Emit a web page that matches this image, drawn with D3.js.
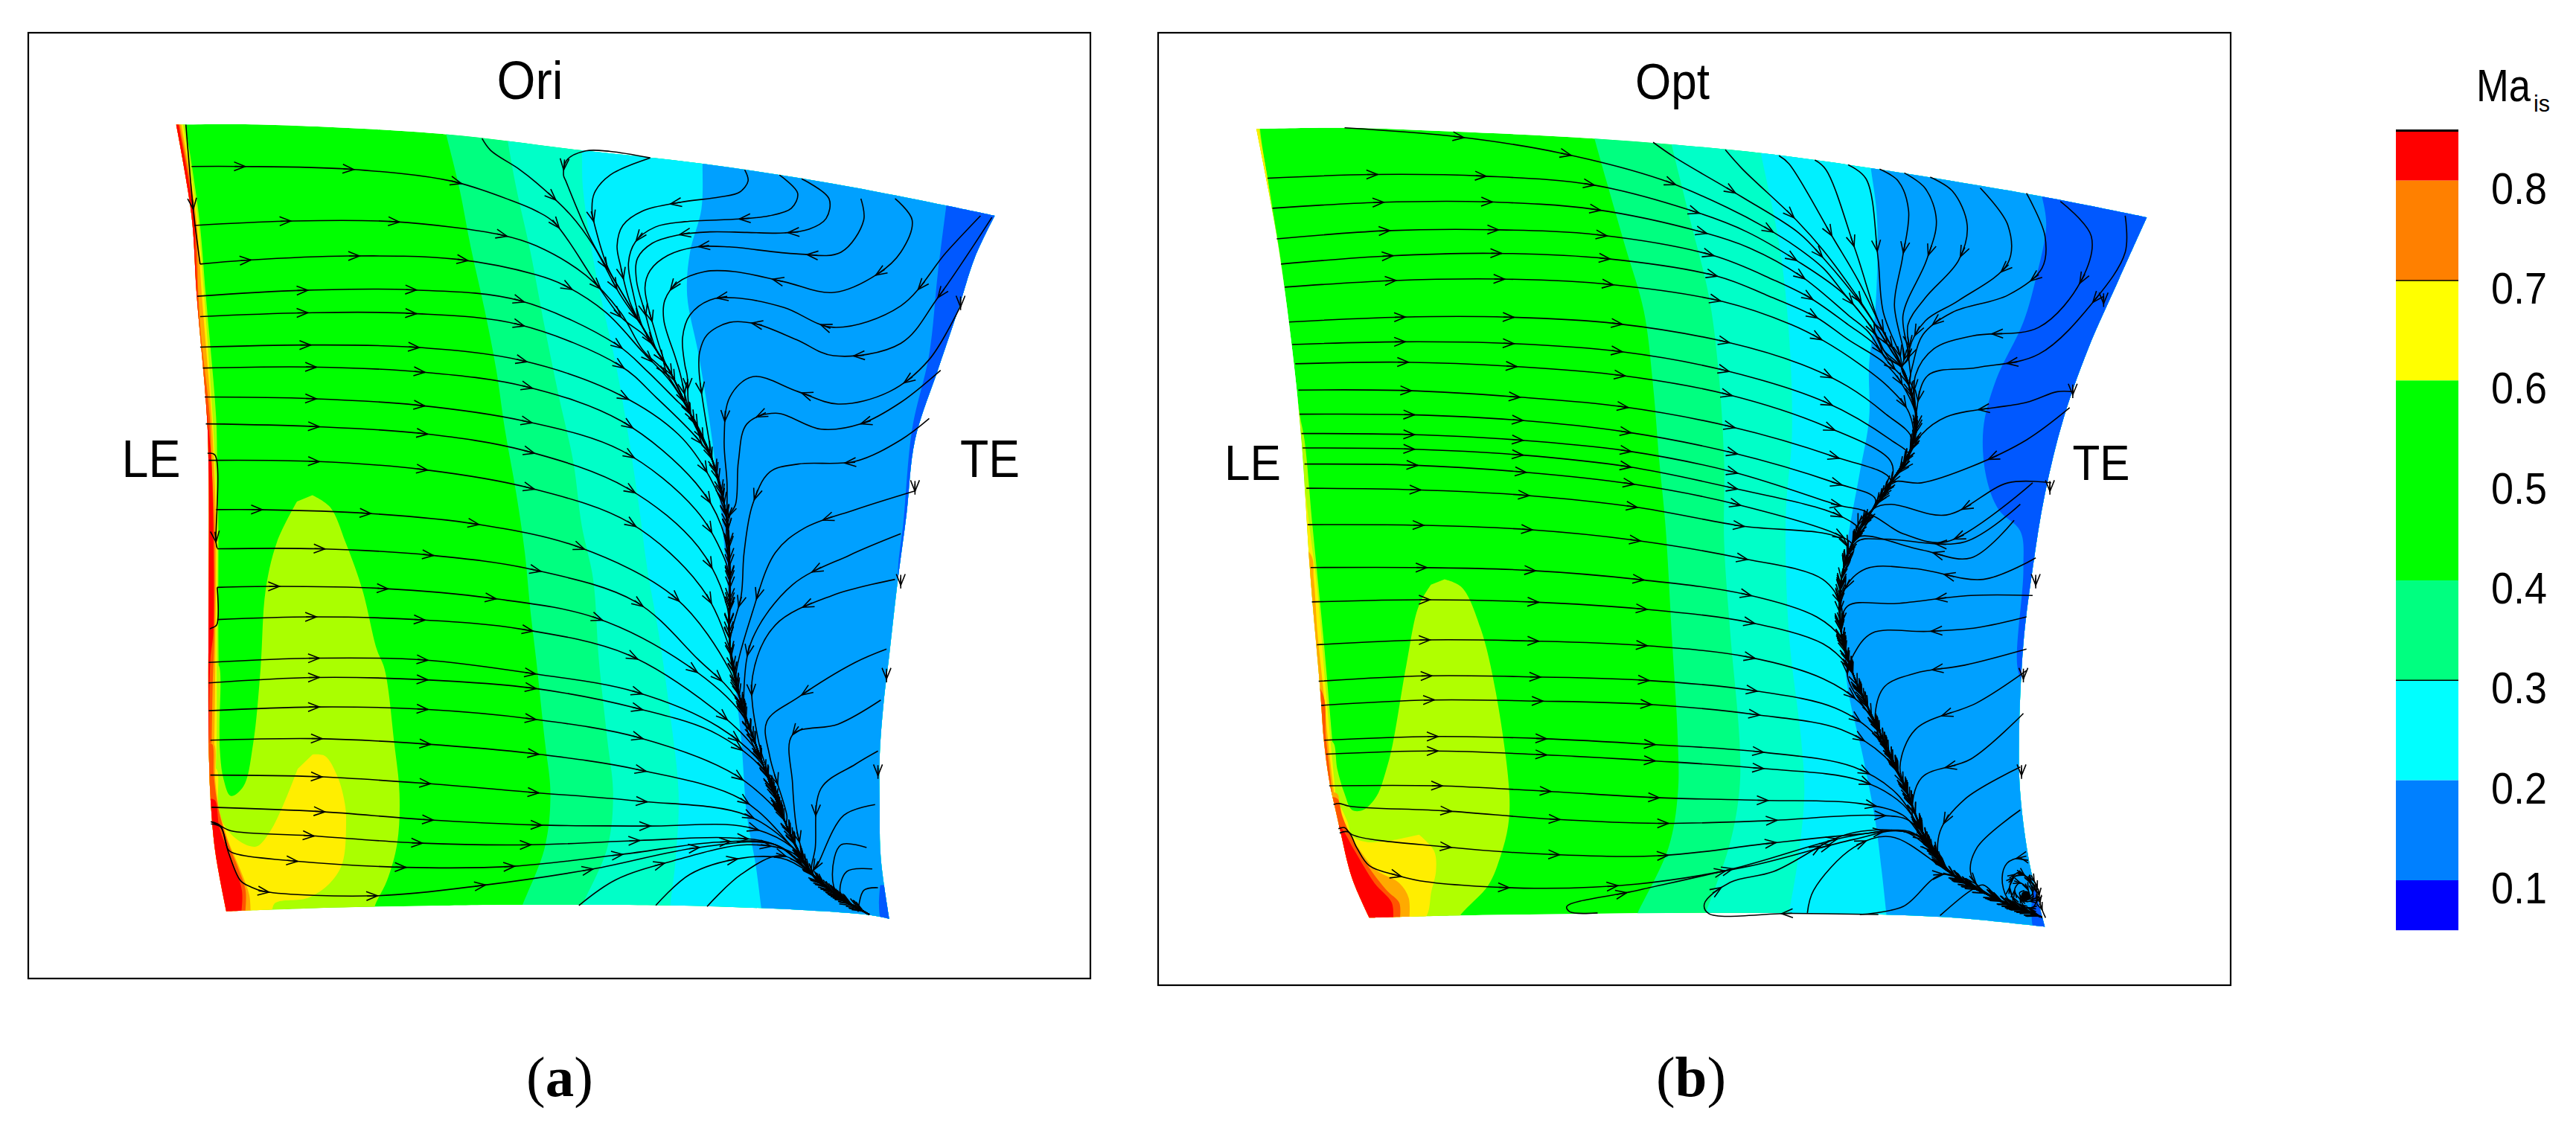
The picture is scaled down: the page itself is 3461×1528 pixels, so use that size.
<!DOCTYPE html>
<html><head><meta charset="utf-8">
<script src="https://cdn.jsdelivr.net/npm/d3@7/dist/d3.min.js"></script>
<style>html,body{margin:0;padding:0;background:#fff}svg{display:block}text{font-family:"Liberation Sans",Arial,sans-serif;fill:#000}</style>
</head><body><svg id="c" width="3461" height="1528"></svg>
<script>
const keyLevels=[0.85,0.8,0.7,0.6,0.4,0.3,0.2,0.1,0.05];
const keyColors=["#ff0000","#ff8000","#ffff00","#00ff00","#00ff80","#00ffff","#0080ff","#0000ff"];
const keyTicks=[0.8,0.7,0.6,0.5,0.4,0.3,0.2,0.1];
const bandColors={green:"#00ff00",spring:"#00ff80",aqua:"#00ffc8",cyan:"#00f0ff",sky:"#00a0ff",blue:"#0058ff",lime:"#aaff00",yellow:"#ffee00",orange:"#ffaa00",flame:"#ff5500",red:"#ff0000"};
const oriTop=[[48,52],[200,52],[522,70],[760,100],[972,125],[1200,162],[1400,203],[1485,222]];
const oriRight=[[1485,222],[1450,300],[1420,400],[1385,510],[1345,640],[1330,780],[1315,900],[1300,1040],[1290,1130],[1283,1230],[1283,1320],[1285,1420],[1300,1533]];
const oriBottom=[[1300,1533],[1265,1526],[1000,1510],[653,1507],[487,1509],[323,1512],[213,1516],[136,1519]];
const oriLeft=[[136,1519],[117,1411],[109,1322],[105,1200],[105,700],[102,597],[84,370],[75,223],[48,52]];
const oriIso=[
 ["spring",[[518,50],[522,70],[545,170],[565,280],[590,400],[610,510],[625,620],[645,740],[660,850],[670,960],[680,1050],[695,1200],[705,1300],[695,1400],[655,1510],[645,1540]]],
 ["aqua",[[627,60],[630,82],[645,170],[670,290],[695,430],[720,560],[745,680],[760,800],[780,900],[790,1050],[805,1200],[815,1300],[805,1400],[760,1510],[750,1540]]],
 ["cyan",[[757,80],[760,100],[762,170],[785,330],[820,500],[840,620],[860,760],[875,880],[895,1000],[915,1150],[930,1300],[925,1420],[915,1510],[912,1540]]],
 ["sky",[[972,100],[972,125],[970,210],[950,290],[945,370],[965,480],[985,610],[1005,780],[1015,900],[1025,1050],[1040,1200],[1050,1340],[1065,1430],[1075,1512],[1078,1540]]],
 ["blue",[[1403,180],[1400,203],[1385,330],[1370,480],[1340,620],[1325,790],[1315,900],[1330,1000]]]
];
const oriTipBlue=[[1284,1470],[1288,1540],[1340,1540],[1340,1470]];
const oriEdge={
 lime:[[62,40],[64,52],[88,223],[100,370],[118,597],[120,680],[122,800],[122,1000],[124,1200],[124,1300]],
 yellow:[[58,40],[60,52],[85,223],[97,370],[112,597],[116,680],[120,800],[119,1000],[119,1200],[116,1300]],
 orange:[[55,40],[57,52],[83,223],[93,370],[110,597],[114,680],[118,800],[117,1000],[115,1200],[112,1300]],
 flame:[[52,40],[54,52],[81,223],[87,370],[92,450],[107,597],[110,680],[115,800],[115,1000],[112,1100],[109,1300]],
 red:[[50,40],[52,52],[79,223],[82,300],[85,370],[90,450],[100,560],[105,620],[110,680],[113,800],[113,1000],[108,1050],[105,1300]]
};
const oriLime=[[287,743],[318,765],[345,830],[375,920],[400,1030],[414,1068],[431,1207],[440,1300],[436,1392],[418,1462],[396,1512],[396,1535],[200,1535],[110,1400],[100,1300],[112,1068],[122,1060],[124,1207],[131,1272],[144,1304],[166,1286],[183,1207],[196,1068],[205,920],[225,830],[260,755]];
const oriYellowLow=[[660,342],[710,348],[760,430],[790,540],[795,620],[780,780],[730,860],[640,920],[510,940],[485,985],[240,985],[240,400],[272,400],[280,540],[300,620],[350,680],[410,712],[440,710],[490,650],[540,550],[600,400]];
const oriOrangeLow=[[410,985],[405,910],[370,810],[320,690],[285,570],[268,450],[262,300],[240,300],[240,985]];
const oriFlameLow=[[388,985],[390,890],[360,800],[320,700],[280,560],[262,430],[255,300],[240,300],[240,985]];
const oriRedLow=[[372,985],[375,890],[330,760],[285,640],[265,525],[240,525],[240,985]];
const oriSep=[[775,264],[828,361],[867,430],[893,476],[915,513],[950,590],[990,680],[1015,790],[1020,900],[1020,1020],[1040,1130],[1080,1250],[1120,1360],[1165,1450],[1210,1490],[1265,1525]];
const oriLeftStreams=[
 [[75,130],[160,130],[350,135],[530,157],[640,195],[680,213],[712,235],[786,349],[830,412],[870,445]],
 [[80,240],[240,232],[430,233],[620,258],[680,278],[767,333],[828,402],[867,472],[906,513]],
 [[90,312],[170,305],[350,297],[540,303],[680,332],[728,351],[802,402],[867,476],[915,530]],
 [[85,372],[270,361],[460,360],[650,380],[821,462],[876,513],[930,570]],
 [[90,410],[270,403],[460,404],[650,425],[828,502],[890,560],[965,640]],
 [[90,467],[275,463],[465,467],[655,492],[825,555],[930,630],[985,710]],
 [[95,506],[285,504],[475,513],[660,540],[830,605],[960,720],[1005,800]],
 [[98,560],[285,563],[470,575],[660,605],[830,660],[960,770],[1010,860]],
 [[100,610],[290,615],[480,628],[660,660],[840,730],[965,840],[1015,950]],
 [[105,678],[290,680],[480,695],[670,730],[845,795],[970,915],[1020,1030]],
 [[118,770],[190,770],[385,777],[575,797],[755,840],[925,935],[1020,1070]],
 [[120,843],[300,843],[495,855],[675,882],[855,942],[965,1050],[1030,1120]],
 [[120,915],[220,913],[410,917],[600,935],[785,972],[945,1060],[1040,1150]],
 [[120,975],[285,970],[470,975],[655,993],[840,1040],[990,1140],[1060,1210]],
 [[105,1055],[290,1047],[480,1050],[670,1075],[855,1110],[1000,1175],[1080,1250]],
 [[105,1093],[290,1083],[480,1087],[675,1103],[855,1140],[1000,1190],[1090,1270]],
 [[105,1145],[290,1138],[480,1142],[670,1160],[860,1195],[1030,1265],[1110,1340]],
 [[108,1200],[295,1197],[485,1207],[675,1225],[860,1255],[1040,1310],[1130,1400]],
 [[108,1265],[295,1268],[480,1280],[670,1297],[855,1313],[1050,1340],[1140,1410]],
 [[110,1325],[300,1333],[485,1348],[680,1358],[870,1360],[1050,1362],[1130,1400],[1165,1450]],
 [[109,1352],[126,1360],[144,1369],[281,1378],[480,1392],[670,1395],[860,1387],[1020,1382],[1100,1395],[1165,1450]],
 [[109,1352],[126,1360],[140,1405],[157,1413],[253,1425],[450,1437],[640,1435],[830,1413],[1000,1390],[1100,1395],[1165,1450]],
 [[109,1356],[126,1362],[140,1410],[161,1462],[178,1473],[203,1482],[400,1490],[590,1470],[780,1440],[965,1400],[1100,1395],[1165,1450]]
];
const oriOtherStreams=[
 [[755,1508],[820,1460],[920,1425],[1050,1395],[1130,1410]],
 [[890,1508],[950,1450],[1040,1420],[1110,1420],[1150,1440]],
 [[980,1510],[1040,1450],[1110,1415],[1165,1450]],
 [[585,78],[600,100],[650,135],[680,160],[740,220],[780,277],[828,370]],
 [[880,114],[810,102],[767,101],[734,118],[728,146],[732,157],[775,264]],
 [[880,114],[810,146],[782,180],[778,213],[784,245],[806,319],[828,361]],
 [[1046,136],[1052,157],[1037,178],[1002,187],[932,197],[867,213],[832,240],[822,278],[828,315],[845,384]],
 [[1107,146],[1139,180],[1128,208],[1089,222],[1037,228],[941,233],[889,243],[854,271],[842,310],[850,365],[867,430]],
 [[1146,153],[1194,190],[1189,227],[1159,247],[1115,254],[1050,253],[985,252],[928,258],[884,273],[858,301],[856,342],[871,402],[889,467]],
 [[1250,190],[1255,230],[1215,290],[1137,293],[1019,280],[963,280],[911,296],[880,324],[871,356],[889,439],[906,495]],
 [[1310,190],[1340,230],[1320,290],[1280,330],[1202,365],[1115,345],[1028,326],[976,326],[928,347],[906,379],[904,416],[924,485],[932,513]],
 [[1460,222],[1400,290],[1320,390],[1202,430],[1115,393],[1028,375],[985,379],[950,407],[937,449],[941,500],[945,520]],
 [[1480,225],[1385,375],[1320,460],[1202,483],[1137,453],[1063,423],[1019,421],[980,444],[967,476],[966,513],[985,650]],
 [[1425,390],[1370,490],[1300,550],[1210,573],[1140,550],[1060,522],[1020,560],[1010,640],[1015,720]],
 [[1390,510],[1320,570],[1250,610],[1180,620],[1100,590],[1050,610],[1035,680],[1030,760]],
 [[1370,600],[1320,640],[1240,680],[1140,685],[1090,700],[1060,760],[1045,850],[1040,930]],
 [[1345,735],[1240,770],[1150,805],[1100,850],[1060,960],[1030,1090]],
 [[1320,815],[1230,855],[1130,910],[1060,1010],[1045,1100],[1050,1180]],
 [[1310,900],[1200,930],[1100,985],[1060,1080],[1070,1200],[1090,1270]],
 [[1295,1030],[1240,1055],[1140,1120],[1085,1165],[1090,1230],[1120,1340]],
 [[1285,1125],[1210,1170],[1130,1190],[1130,1280],[1140,1380]],
 [[1280,1220],[1240,1245],[1180,1290],[1170,1400]],
 [[1275,1320],[1220,1340],[1175,1430]],
 [[1260,1400],[1215,1395],[1200,1450],[1210,1490]],
 [[1270,1440],[1225,1445],[1215,1490]],
 [[1280,1475],[1255,1480],[1245,1520]]
];
const oriStubs=[
 [[65,52],[78,210],[90,312]],
 [[103,665],[116,668],[118,832],[120,842]],
 [[120,915],[119,985],[108,992],[108,993]],
 [[1425,378],[1425,392],[1425,398]],
 [[1345,722],[1345,736],[1345,742]],
 [[1320,897],[1320,911],[1320,917]],
 [[1295,1072],[1295,1086],[1295,1092]],
 [[1280,1252],[1280,1266],[1280,1272]]
];
const optTop=[[82,60],[230,58],[400,65],[630,78],[900,105],[1100,137],[1350,185],[1525,225]];
const optRight=[[1525,225],[1480,340],[1430,470],[1390,600],[1360,740],[1340,880],[1325,1020],[1318,1200],[1320,1300],[1335,1430],[1360,1548]];
const optBottom=[[1360,1548],[1200,1530],[1000,1523],[800,1522],[600,1524],[400,1527],[265,1531]];
const optLeft=[[265,1531],[237,1457],[217,1364],[209,1323],[201,1281],[192,1207],[185,1100],[170,900],[155,640],[140,470],[115,260],[82,60]];
const optIso=[
 ["spring",[[625,55],[630,78],[650,160],[680,280],[710,400],[725,540],[735,680],[745,800],[755,1000],[765,1200],[765,1300],[750,1400],[700,1522],[690,1550]]],
 ["aqua",[[750,65],[755,90],[785,230],[815,370],[830,500],[840,680],[840,830],[850,1000],[865,1200],[865,1290],[850,1390],[810,1522],[800,1550]]],
 ["cyan",[[896,85],[900,108],[930,280],[945,440],[950,630],[940,780],[945,1000],[965,1200],[970,1300],[960,1420],[945,1522],[940,1550]]],
 ["sky",[[1075,110],[1078,135],[1088,230],[1085,400],[1075,500],[1075,600],[1060,700],[1040,830],[1030,950],[1040,1100],[1065,1230],[1085,1350],[1095,1440],[1103,1525],[1105,1550]]],
 ["blue",[[1350,160],[1355,185],[1362,240],[1345,340],[1325,420],[1280,530],[1260,620],[1265,710],[1285,770],[1320,810],[1325,880],[1315,1060],[1325,1100],[1360,1200]]]
];
const optTipBlue=[[1340,1480],[1345,1560],[1400,1560],[1400,1480]];
const optEdge={
 lime:[[88,40],[88,60],[110,220],[121,300],[152,590],[160,640],[173,800],[190,1000],[205,1200],[215,1340]],
 yellow:[[85,40],[86,60],[100,150],[108,220],[118,300],[150,590],[158,700],[170,820],[179,900],[187,1000],[194,1100],[202,1200],[212,1320]],
 orange:[[60,800],[168,850],[175,900],[181,1000],[190,1100],[198,1200],[210,1320]],
 flame:[[60,1050],[183,1100],[195,1200],[207,1320]]
};
const optLime=[[387,900],[415,915],[445,990],[470,1110],[492,1300],[490,1360],[478,1415],[458,1470],[414,1524],[400,1550],[290,1550],[225,1400],[200,1340],[198,1200],[207,1205],[213,1253],[225,1300],[237,1330],[255,1330],[277,1304],[293,1253],[303,1207],[325,1060],[345,950],[365,910]];
const optYellowLow=[[770,365],[830,430],[838,510],[820,590],[785,710],[400,710],[400,240],[440,240],[480,310],[500,370],[560,395],[680,385]];
const optOrangeLow=[[730,710],[728,620],[690,560],[600,510],[540,440],[480,340],[450,250],[440,200],[400,200],[400,710]];
const optFlameLow=[[692,710],[690,640],[640,590],[570,500],[510,400],[460,290],[440,220],[400,220],[400,710]];
const optRedLow=[[665,710],[660,640],[590,560],[510,430],[450,330],[400,300],[400,710]];
const optSep=[[1115,480],[1128,505],[1140,540],[1152,600],[1145,650],[1110,720],[1075,780],[1045,840],[1030,900],[1030,1000],[1050,1080],[1090,1180],[1130,1280],[1170,1390],[1210,1450],[1290,1500],[1355,1530]];
const optLeftStreams=[
 [[225,58],[410,75],[575,105],[740,155],[844,206],[907,244],[957,280],[1001,320],[1033,365],[1082,435],[1106,486]],
 [[100,152],[270,145],[450,148],[630,165],[802,218],[877,252],[957,305],[1033,367],[1078,430],[1098,472]],
 [[108,208],[280,197],[455,196],[630,210],[806,253],[881,282],[965,335],[1041,407],[1074,439],[1102,486]],
 [[115,265],[290,250],[465,248],[640,258],[822,296],[921,342],[979,375],[1041,425],[1084,462],[1106,495]],
 [[122,312],[295,297],[470,292],[650,302],[830,335],[909,370],[989,411],[1041,453],[1098,495],[1125,530]],
 [[128,355],[300,343],[480,340],[655,350],[838,382],[949,425],[1001,455],[1060,499],[1105,540],[1140,590]],
 [[135,420],[315,411],[490,411],[665,423],[846,458],[965,499],[1040,540],[1100,590],[1145,640]],
 [[140,462],[315,457],[490,460],[670,475],[840,510],[1005,570],[1110,640],[1140,670]],
 [[145,498],[320,495],[500,503],[675,520],[845,555],[1005,615],[1110,680]],
 [[150,547],[325,548],[505,560],[675,578],[850,615],[1015,670],[1110,715]],
 [[152,592],[330,593],[505,603],[680,625],[850,663],[1020,720],[1085,750]],
 [[155,628],[330,630],[505,640],[680,660],[855,700],[1020,760],[1075,780]],
 [[157,655],[330,657],[510,668],[685,690],[855,730],[1025,780],[1060,810]],
 [[160,685],[335,687],[515,700],[690,722],[860,760],[1030,820],[1050,840]],
 [[163,730],[340,733],[515,743],[695,765],[865,800],[1030,825],[1045,860]],
 [[165,798],[345,799],[520,807],[695,827],[865,860],[1000,900],[1030,950]],
 [[170,878],[350,878],[520,883],[700,900],[875,928],[990,970],[1030,1010]],
 [[172,942],[355,938],[525,942],[705,955],[880,980],[1000,1020],[1040,1060]],
 [[180,1022],[355,1013],[530,1015],[705,1023],[880,1045],[1000,1085],[1060,1130]],
 [[183,1090],[358,1080],[535,1082],[710,1088],[885,1107],[1020,1140],[1085,1190]],
 [[187,1135],[362,1125],[540,1127],[715,1133],[890,1152],[1030,1180],[1100,1230]],
 [[192,1200],[368,1193],[545,1197],[725,1208],[900,1222],[1050,1250],[1120,1300]],
 [[195,1226],[368,1220],[545,1227],[720,1238],[895,1252],[1060,1275],[1130,1320]],
 [[200,1285],[375,1285],[550,1295],[730,1307],[900,1312],[1060,1318],[1130,1340],[1160,1380]],
 [[207,1320],[217,1318],[233,1323],[390,1332],[560,1347],[735,1355],[910,1350],[1085,1340],[1140,1350],[1170,1395]],
 [[215,1365],[225,1363],[237,1376],[390,1399],[560,1413],[740,1415],[915,1392],[1060,1375],[1140,1370],[1175,1400]],
 [[217,1373],[231,1371],[245,1401],[265,1434],[310,1452],[358,1464],[533,1476],[700,1468],[880,1435],[1050,1385],[1130,1370],[1180,1410]]
];
const optOtherStreams=[
 [[635,1522],[590,1520],[585,1510],[700,1480],[870,1435],[1040,1380],[1130,1370]],
 [[1090,1525],[950,1523],[815,1523],[808,1505],[850,1465],[920,1445],[1040,1375],[1130,1370]],
 [[975,1522],[985,1480],[1050,1400],[1110,1380]],
 [[1060,1525],[1130,1510],[1195,1450]],
 [[1190,1527],[1240,1480],[1260,1470]],
 [[725,85],[760,113],[869,187],[961,254],[1001,301],[1066,393],[1110,472]],
 [[842,99],[869,134],[957,230],[1001,287],[1057,375],[1098,449]],
 [[929,110],[945,125],[1017,264],[1057,342],[1094,428],[1118,480]],
 [[987,118],[1005,136],[1053,287],[1094,430],[1122,486]],
 [[1041,127],[1070,153],[1089,296],[1098,402],[1126,486]],
 [[1092,135],[1122,157],[1139,213],[1129,301],[1116,388],[1132,486]],
 [[1132,142],[1166,171],[1184,231],[1168,305],[1130,407],[1138,486]],
 [[1174,150],[1210,176],[1234,240],[1220,305],[1166,375],[1138,425],[1140,486]],
 [[1255,170],[1300,240],[1300,310],[1220,380],[1166,418],[1140,472],[1142,520]],
 [[1330,180],[1360,260],[1355,320],[1300,370],[1210,402],[1162,444],[1146,499]],
 [[1385,195],[1435,260],[1420,340],[1350,430],[1242,446],[1180,470],[1150,520],[1150,590]],
 [[1490,222],[1490,290],[1440,380],[1350,480],[1250,505],[1170,520],[1150,600]],
 [[1405,550],[1380,550],[1330,570],[1200,597],[1160,630],[1130,690]],
 [[1400,580],[1330,640],[1240,690],[1160,720],[1110,720]],
 [[1370,720],[1300,720],[1200,780],[1110,760],[1080,770]],
 [[1340,720],[1200,830],[1130,815],[1070,780]],
 [[1320,760],[1230,830],[1100,825],[1055,830]],
 [[1310,790],[1240,860],[1160,845],[1060,820]],
 [[1345,860],[1260,900],[1150,880],[1070,880],[1035,920]],
 [[1340,930],[1240,930],[1120,945],[1040,950],[1030,1000]],
 [[1330,970],[1250,990],[1170,997],[1080,1000],[1050,1040],[1040,1080]],
 [[1330,1030],[1230,1060],[1150,1075],[1100,1100],[1085,1150],[1090,1190]],
 [[1330,1070],[1250,1130],[1150,1180],[1125,1250],[1135,1290]],
 [[1325,1150],[1240,1235],[1160,1270],[1145,1340],[1160,1380]],
 [[1320,1250],[1230,1310],[1190,1370],[1190,1430]],
 [[1320,1330],[1250,1400],[1240,1450],[1270,1490]]
];
const optStubs=[
 [[1455,372],[1455,386],[1455,392]],
 [[1405,542],[1405,556],[1405,562]],
 [[1368,722],[1368,736],[1368,742]],
 [[1345,897],[1345,911],[1345,917]],
 [[1325,1072],[1325,1086],[1325,1092]],
 [[1322,1252],[1322,1266],[1322,1272]]
];
const optVortex=[[675,330],[640,310],[590,330],[570,390],[590,470],[640,510],[700,530],[725,545]];
const optSpiral=[[610,385],[640,368],[690,410],[712,470],[690,510],[630,490],[600,430],[620,385],[660,380],[690,430],[690,480],[650,480],[620,440],[640,410],[670,430],[680,470],[660,480],[640,450],[660,440]];
const optHair=[[695,395],[715,440],[725,500],[745,550]];
const titles=["Ori","Opt"],edgeLabels=["LE","TE"],captions=["a","b"];

const svg=d3.select("#c");
const curve=d3.curveCatmullRom.alpha(0.5);
function label(t,x,y,fs,w,anchor){
 return svg.append("text").attr("x",x).attr("y",y).attr("text-anchor",anchor||"start").attr("font-size",fs).attr("textLength",w).attr("lengthAdjust","spacingAndGlyphs").text(t);
}
function panel(cfg){
 const x=d3.scaleLinear().domain([0,1568]).range(cfg.xr), y=d3.scaleLinear().domain([0,1568]).range(cfg.yr);
 const xl=d3.scaleLinear().domain([0,cfg.low[0]]).range(cfg.low[1]), yl=d3.scaleLinear().domain([0,cfg.low[2]]).range(cfg.low[3]);
 const main=d3.line().x(d=>x(d[0])).y(d=>y(d[1])).curve(curve);
 const low=d3.line().x(d=>xl(d[0])).y(d=>yl(d[1])).curve(curve);
 const id="clip"+cfg.title;
 const outline=[cfg.top,cfg.right,cfg.bottom,cfg.left].map((e,i)=>{const s=main(e);return i?s.replace(/^M/,"L"):s}).join("")+"Z";
 svg.append("clipPath").attr("id",id).append("path").attr("d",outline);
 svg.append("rect").attr("x",cfg.frame[0]).attr("y",cfg.frame[1]).attr("width",cfg.frame[2]-cfg.frame[0]).attr("height",cfg.frame[3]-cfg.frame[1]).attr("fill","#fff").attr("stroke","#000").attr("stroke-width",2.2);
 const g=svg.append("g").attr("clip-path",`url(#${id})`);
 g.append("path").attr("d",outline).attr("fill",bandColors.green);
 cfg.iso.forEach(([c,pts])=>{
  const a=pts[0],b=pts[pts.length-1];
  g.append("path").attr("fill",bandColors[c]).attr("d",main(pts)+`L${x(1700)},${y(b[1])}L${x(1700)},${y(a[1])}Z`);
 });
 g.append("path").attr("fill",bandColors.blue).attr("d",main(cfg.tip)+"Z");
 g.append("path").attr("fill",cfg.lime||bandColors.lime).attr("d",main(cfg.blob)+"Z");
 ["lime","yellow","orange","flame","red"].forEach(k=>{
  const pts=cfg.edge[k]; if(!pts)return;
  const a=pts[0],b=pts[pts.length-1];
  g.append("path").attr("fill",k==="lime"?(cfg.lime||bandColors.lime):bandColors[k]).attr("d",main(pts)+`L${x(0)},${y(b[1])}L${x(0)},${y(a[1])}Z`);
 });
 [["yellow",cfg.yLow],["orange",cfg.oLow],["flame",cfg.fLow],["red",cfg.rLow]].forEach(([k,p])=>{
  g.append("path").attr("fill",bandColors[k]).attr("d",low(p)+"Z");
 });
 const sl=svg.append("g").attr("fill","none").attr("stroke","#000").attr("stroke-width",1.6);
 function drawStream(d,first,gap,k){
  k=k||1;
  const p=sl.append("path").attr("d",d), n=p.node(), L=n.getTotalLength();
  for(let s=first;s<L-4;s+=gap){
   const a=n.getPointAtLength(s),b=n.getPointAtLength(s+1.5);
   const t=Math.atan2(b.y-a.y,b.x-a.x)*180/Math.PI;
   sl.append("path").attr("transform",`translate(${a.x},${a.y}) rotate(${t})`).attr("d",d3.line()([[-15*k,-6*k],[0,0],[-15*k,6*k]]));
   sl.append("path").attr("transform",`translate(${a.x},${a.y}) rotate(${t})`).attr("d",d3.line()([[-14*k,0],[0,0]]));
  }
 }
 const arc=(s,i)=>{let t=0;for(let k=1;k<=i;k++)t+=Math.hypot(x(s[k][0])-x(s[k-1][0]),y(s[k][1])-y(s[k-1][1]));return t};
 const extend=s=>{const l=s[s.length-1];return s.concat(cfg.sep.filter(q=>q[1]>l[1]+15))};
 cfg.leftStreams.forEach(s=>{
  let i=1; while(i<s.length-1&&s[i][0]-s[0][0]<70)i++;
  drawStream(main(extend(s)),arc(s,i)+7,146);
 });
 cfg.otherStreams.forEach(s=>drawStream(main(extend(s)),130,146));
 cfg.stubs.forEach(s=>drawStream(main(s),arc(s,s.length-2),900));
 label(cfg.title,cfg.titlePos[0],cfg.titlePos[1],cfg.titlePos[2],cfg.titlePos[3],"middle");
 label(edgeLabels[0],cfg.lePos[0],cfg.lePos[1],cfg.lePos[2],cfg.lePos[3],"middle");
 label(edgeLabels[1],cfg.tePos[0],cfg.tePos[1],cfg.tePos[2],cfg.tePos[3],"middle");
 const cap=svg.append("text").attr("x",cfg.capX).attr("y",1473).attr("text-anchor","middle").attr("font-size",77).style("font-family","'Liberation Serif',serif");
 cap.append("tspan").text("(");cap.append("tspan").attr("font-weight","bold").text(cfg.cap);cap.append("tspan").text(")");
 return {drawStream};
}
panel({title:titles[0],xr:[200,1400],yr:[130,1260],low:[1500,[200,700],1200,[900,1300]],frame:[38,44,1465,1315],
 top:oriTop,right:oriRight,bottom:oriBottom,left:oriLeft,iso:oriIso,tip:oriTipBlue,blob:oriLime,edge:oriEdge,
 yLow:oriYellowLow,oLow:oriOrangeLow,fLow:oriFlameLow,rLow:oriRedLow,sep:oriSep,leftStreams:oriLeftStreams,otherStreams:oriOtherStreams,stubs:oriStubs,
 titlePos:[712,133,72,89],lePos:[203,641,70,79],tePos:[1330,641,70,80],capX:752,cap:captions[0]});
const pb=panel({title:titles[1],xr:[1620,2920],yr:[130,1260],low:[1500,[1650,2150],900,[1000,1300]],frame:[1556,44,2997,1324],lime:"#b0ff00",
 top:optTop,right:optRight,bottom:optBottom,left:optLeft,iso:optIso,tip:optTipBlue,blob:optLime,edge:optEdge,
 yLow:optYellowLow,oLow:optOrangeLow,fLow:optFlameLow,rLow:optRedLow,sep:optSep,leftStreams:optLeftStreams,otherStreams:optOtherStreams,stubs:optStubs,
 titlePos:[2247,133,68,100],lePos:[1683,645,66,76],tePos:[2823,645,66,77],capX:2272,cap:captions[1]});
const vx=d3.scaleLinear().domain([0,900]).range([2500,2800]),vy=d3.scaleLinear().domain([0,720]).range([1050,1290]);
const vl=d3.line().x(d=>vx(d[0])).y(d=>vy(d[1])).curve(curve);
pb.drawStream(vl(optVortex),18,150);
pb.drawStream(vl(optSpiral),5,14,0.65);
pb.drawStream(vl(optHair),3,10,0.65);
svg.append("circle").attr("cx",vx(665)).attr("cy",vy(460)).attr("r",6);

const my=d3.scaleLinear().domain([0.1,0.8]).range([1183,242.7]);
const bx=d3.scaleLinear().domain([0,1]).range([3219,3303]);
const bar=svg.append("g");
bar.selectAll("rect").data(keyColors).join("rect").attr("x",bx(0)).attr("width",bx(1)-bx(0))
 .attr("y",(d,i)=>my(keyLevels[i])).attr("height",(d,i)=>my(keyLevels[i+1])-my(keyLevels[i])).attr("fill",d=>d);
[0.85,0.7,0.3].forEach(v=>bar.append("line").attr("x1",bx(0)).attr("x2",bx(1)).attr("y1",my(v)).attr("y2",my(v)).attr("stroke","#000").attr("stroke-width",v===0.85?3:1.5));
keyTicks.forEach(v=>label(v.toFixed(1),3347,my(v)+31,60,75));
label("Ma",3327,136,61,73);
label("is",3404,150,32,22);
</script></body></html>
